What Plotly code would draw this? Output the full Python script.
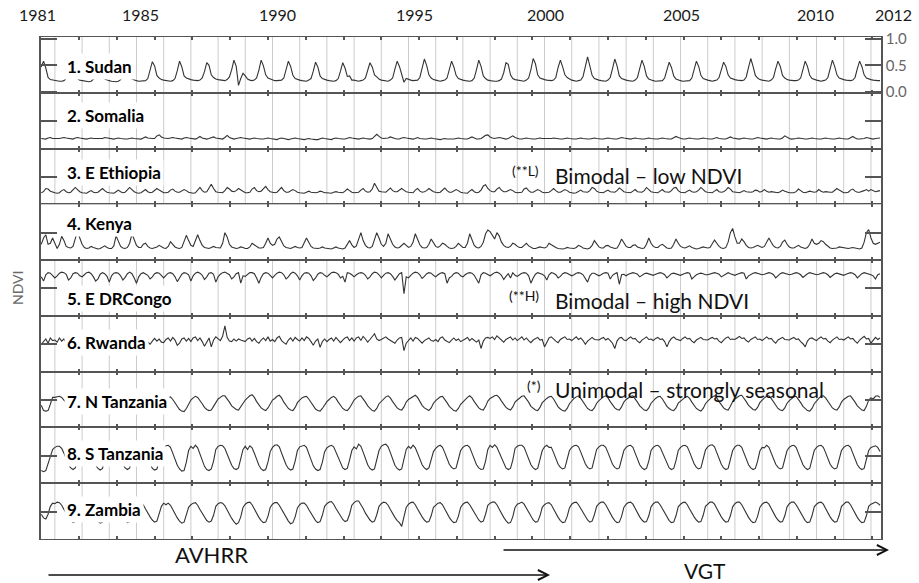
import plotly.graph_objects as go
from plotly.subplots import make_subplots

# ---------------- DATA (NDVI x 100, monthly; first row = Jul-Dec 1981, last row = Jan-May 2012) ----
region_names = ["1. Sudan", "2. Somalia", "3. E Ethiopia", "4. Kenya", "5. E DRCongo",
                "6. Rwanda", "7. N Tanzania", "8. S Tanzania", "9. Zambia"]

year_tick_labels = ["1981", "1985", "1990", "1995", "2000", "2005", "2010", "2012"]
right_tick_values = [0.0, 0.5, 1.0]
right_tick_labels = ["0.0", "0.5", "1.0"]

sudan = [
    [47, 58, 45, 27, 23, 22],
    [21, 20, 20, 20, 21, 25, 37, 55, 48, 31, 25, 22],
    [21, 20, 19, 19, 20, 24, 35, 52, 46, 30, 24, 22],
    [21, 20, 19, 19, 20, 23, 33, 50, 44, 29, 24, 22],
    [21, 20, 20, 20, 21, 25, 39, 57, 49, 31, 26, 23],
    [22, 21, 20, 20, 21, 25, 40, 58, 47, 30, 26, 24],
    [23, 22, 21, 21, 22, 26, 38, 55, 50, 32, 27, 24],
    [23, 22, 21, 21, 23, 28, 42, 60, 48, 12, 25, 35],
    [30, 24, 22, 21, 22, 26, 41, 60, 49, 32, 26, 24],
    [22, 21, 21, 21, 22, 26, 41, 58, 48, 31, 25, 23],
    [22, 21, 20, 20, 22, 25, 39, 56, 47, 30, 25, 23],
    [22, 21, 20, 20, 21, 25, 39, 55, 45, 29, 30, 22],
    [22, 21, 20, 21, 22, 26, 41, 55, 47, 32, 28, 24],
    [22, 21, 20, 20, 22, 26, 43, 58, 48, 32, 18, 25],
    [23, 22, 21, 21, 22, 27, 44, 62, 50, 32, 26, 23],
    [22, 21, 20, 21, 22, 26, 41, 58, 47, 31, 25, 23],
    [22, 21, 20, 20, 21, 26, 42, 60, 48, 30, 25, 22],
    [21, 20, 20, 20, 21, 24, 36, 55, 52, 32, 25, 23],
    [22, 21, 20, 20, 22, 26, 42, 63, 53, 32, 26, 24],
    [23, 22, 21, 21, 22, 27, 46, 60, 47, 32, 27, 24],
    [22, 21, 20, 21, 22, 29, 50, 66, 49, 31, 25, 23],
    [22, 21, 20, 20, 22, 27, 44, 62, 49, 30, 25, 23],
    [22, 21, 20, 20, 22, 27, 44, 60, 48, 30, 24, 22],
    [21, 20, 20, 20, 21, 26, 43, 56, 46, 30, 24, 22],
    [21, 20, 20, 20, 21, 26, 43, 58, 48, 31, 25, 23],
    [22, 21, 20, 21, 22, 27, 43, 56, 48, 32, 26, 24],
    [23, 22, 21, 21, 22, 28, 46, 63, 48, 31, 26, 23],
    [22, 21, 20, 20, 22, 27, 44, 58, 48, 31, 26, 23],
    [22, 21, 21, 21, 22, 26, 42, 58, 48, 31, 25, 23],
    [22, 21, 20, 21, 22, 27, 44, 60, 48, 32, 26, 24],
    [23, 22, 21, 21, 22, 27, 44, 58, 48, 32, 26, 24],
    [23, 22, 21, 21, 21],
]

somalia = [
    [17, 17, 16, 18, 19, 17],
    [17, 16, 17, 18, 19, 18, 17, 17, 16, 18, 19, 18],
    [17, 16, 16, 17, 18, 17, 17, 16, 16, 17, 19, 18],
    [17, 16, 16, 17, 18, 17, 16, 16, 16, 17, 18, 17],
    [17, 16, 16, 18, 20, 18, 17, 17, 17, 22, 24, 20],
    [18, 17, 17, 18, 19, 18, 17, 16, 16, 18, 19, 18],
    [17, 17, 16, 18, 21, 18, 17, 16, 17, 18, 20, 18],
    [17, 16, 16, 19, 23, 19, 17, 16, 17, 18, 19, 18],
    [17, 16, 16, 17, 18, 17, 16, 16, 16, 17, 18, 17],
    [16, 16, 15, 17, 18, 17, 16, 15, 16, 17, 18, 17],
    [16, 15, 15, 16, 17, 16, 15, 15, 15, 16, 18, 17],
    [16, 16, 15, 17, 18, 17, 16, 16, 16, 18, 19, 18],
    [17, 16, 16, 17, 18, 17, 16, 16, 17, 22, 25, 21],
    [18, 17, 17, 18, 20, 18, 17, 16, 16, 18, 19, 18],
    [17, 16, 16, 17, 19, 17, 16, 16, 16, 17, 18, 17],
    [16, 16, 15, 16, 17, 16, 16, 15, 16, 17, 18, 17],
    [16, 16, 16, 18, 20, 18, 16, 16, 17, 20, 23, 24],
    [20, 18, 17, 18, 19, 18, 17, 16, 17, 19, 22, 19],
    [17, 16, 16, 17, 18, 17, 16, 16, 16, 17, 18, 17],
    [17, 16, 16, 17, 18, 17, 16, 16, 16, 17, 18, 17],
    [16, 16, 16, 17, 18, 17, 16, 16, 16, 17, 18, 17],
    [16, 16, 16, 17, 18, 17, 16, 16, 16, 17, 19, 18],
    [17, 16, 16, 17, 18, 17, 16, 16, 16, 17, 18, 17],
    [16, 16, 16, 17, 18, 17, 16, 16, 16, 18, 21, 19],
    [17, 16, 16, 17, 18, 17, 16, 16, 16, 17, 18, 17],
    [16, 16, 16, 17, 19, 17, 16, 16, 16, 18, 20, 18],
    [17, 16, 16, 17, 18, 17, 16, 16, 16, 18, 19, 18],
    [17, 16, 16, 17, 18, 17, 16, 16, 16, 18, 22, 19],
    [17, 16, 16, 17, 18, 17, 16, 16, 16, 17, 18, 17],
    [16, 16, 16, 17, 18, 17, 16, 16, 16, 17, 18, 17],
    [16, 16, 16, 18, 21, 18, 16, 16, 16, 17, 19, 18],
    [17, 16, 17, 18, 18],
]

e_ethiopia = [
    [20, 22, 28, 27, 23, 21],
    [20, 19, 20, 24, 26, 22, 20, 21, 25, 30, 26, 22],
    [20, 19, 19, 22, 24, 21, 20, 21, 24, 28, 24, 21],
    [20, 19, 19, 22, 25, 22, 20, 21, 25, 30, 26, 22],
    [20, 19, 20, 23, 26, 22, 20, 21, 24, 28, 25, 22],
    [20, 20, 21, 25, 27, 23, 21, 21, 23, 26, 24, 21],
    [20, 19, 20, 26, 30, 24, 21, 22, 28, 36, 28, 22],
    [21, 20, 20, 24, 30, 27, 23, 22, 24, 28, 25, 22],
    [20, 20, 21, 27, 30, 24, 22, 23, 27, 32, 26, 22],
    [21, 20, 21, 26, 30, 24, 21, 21, 23, 26, 24, 21],
    [20, 19, 19, 21, 23, 21, 20, 20, 21, 23, 22, 20],
    [20, 19, 19, 21, 22, 21, 20, 20, 23, 27, 24, 21],
    [20, 20, 21, 25, 28, 23, 21, 22, 27, 38, 30, 23],
    [22, 21, 21, 25, 29, 24, 22, 22, 25, 28, 25, 22],
    [21, 20, 20, 25, 28, 23, 21, 22, 24, 28, 25, 22],
    [21, 20, 21, 26, 29, 24, 21, 21, 23, 26, 24, 21],
    [20, 19, 19, 23, 26, 22, 20, 21, 25, 33, 35, 28],
    [24, 22, 22, 27, 30, 25, 22, 22, 24, 26, 24, 21],
    [20, 20, 21, 27, 29, 24, 21, 21, 23, 26, 24, 21],
    [20, 20, 21, 24, 28, 24, 21, 21, 23, 26, 24, 21],
    [20, 19, 20, 22, 25, 22, 21, 21, 24, 30, 28, 23],
    [21, 20, 20, 23, 25, 22, 21, 21, 24, 29, 26, 22],
    [21, 20, 20, 23, 26, 22, 21, 21, 24, 30, 26, 22],
    [21, 20, 20, 23, 26, 22, 21, 21, 24, 29, 30, 24],
    [21, 20, 20, 23, 25, 22, 21, 22, 25, 30, 26, 22],
    [21, 20, 20, 23, 26, 22, 21, 22, 25, 30, 27, 22],
    [21, 20, 20, 22, 24, 22, 21, 21, 22, 25, 24, 21],
    [23, 26, 23, 21, 22, 21, 20, 20, 22, 25, 23, 21],
    [20, 20, 20, 22, 27, 24, 21, 20, 21, 23, 22, 21],
    [22, 26, 23, 21, 22, 21, 21, 21, 24, 28, 25, 22],
    [20, 20, 21, 25, 27, 23, 21, 21, 22, 24, 26, 23],
    [26, 24, 22, 23, 24],
]

kenya = [
    [28, 40, 46, 28, 30, 40],
    [30, 20, 28, 43, 35, 24, 22, 21, 24, 38, 53, 40],
    [28, 22, 20, 21, 24, 22, 20, 19, 20, 22, 25, 22],
    [20, 20, 25, 44, 35, 24, 21, 20, 22, 30, 48, 38],
    [26, 22, 22, 28, 30, 24, 21, 20, 21, 23, 26, 23],
    [21, 20, 24, 33, 28, 23, 21, 20, 22, 32, 45, 35],
    [26, 24, 36, 46, 35, 26, 22, 21, 20, 22, 24, 22],
    [21, 21, 30, 50, 42, 28, 23, 21, 20, 21, 23, 22],
    [20, 20, 23, 30, 27, 23, 21, 21, 22, 30, 40, 30],
    [26, 28, 38, 42, 33, 25, 22, 21, 20, 22, 24, 22],
    [21, 22, 30, 40, 32, 24, 21, 20, 20, 21, 23, 21],
    [20, 19, 19, 21, 23, 21, 20, 19, 21, 28, 35, 27],
    [22, 25, 40, 50, 35, 26, 22, 21, 24, 36, 50, 40],
    [28, 24, 30, 48, 38, 28, 23, 21, 22, 26, 30, 26],
    [22, 24, 32, 48, 38, 27, 22, 21, 22, 28, 38, 30],
    [24, 22, 25, 30, 28, 24, 21, 20, 21, 24, 30, 26],
    [22, 22, 30, 48, 36, 26, 22, 21, 24, 32, 48, 55],
    [52, 45, 38, 50, 44, 32, 26, 23, 22, 24, 30, 28],
    [24, 22, 22, 26, 30, 25, 22, 20, 20, 21, 23, 22],
    [21, 23, 30, 27, 24, 22, 20, 19, 19, 20, 22, 21],
    [20, 20, 22, 26, 24, 21, 20, 19, 21, 26, 35, 28],
    [23, 21, 21, 25, 26, 23, 21, 20, 21, 28, 38, 30],
    [24, 22, 22, 26, 27, 23, 21, 20, 21, 28, 40, 30],
    [24, 22, 22, 26, 28, 24, 21, 20, 21, 28, 38, 30],
    [24, 22, 21, 23, 25, 22, 20, 19, 20, 21, 23, 22],
    [21, 22, 28, 36, 30, 24, 21, 20, 22, 32, 50, 58],
    [42, 30, 30, 38, 33, 26, 22, 21, 22, 24, 26, 24],
    [22, 24, 32, 40, 32, 25, 22, 21, 24, 32, 36, 28],
    [23, 21, 21, 24, 26, 23, 21, 20, 22, 28, 38, 30],
    [28, 30, 35, 33, 28, 24, 21, 20, 20, 21, 23, 22],
    [21, 20, 20, 21, 22, 21, 20, 19, 21, 32, 50, 56],
    [40, 30, 28, 30, 32],
]

e_drcongo = [
    [72, 64, 76, 80, 79, 75],
    [70, 74, 79, 81, 80, 77, 66, 70, 78, 80, 79, 74],
    [72, 76, 80, 81, 78, 72, 64, 68, 77, 80, 78, 73],
    [62, 74, 79, 80, 79, 74, 66, 71, 78, 81, 78, 70],
    [60, 72, 78, 80, 78, 75, 68, 72, 78, 80, 79, 74],
    [70, 75, 79, 80, 78, 72, 63, 70, 77, 80, 79, 76],
    [64, 74, 79, 81, 79, 75, 67, 72, 79, 80, 77, 62],
    [72, 77, 80, 81, 79, 76, 68, 72, 78, 80, 60, 74],
    [73, 77, 80, 80, 78, 70, 60, 71, 78, 80, 79, 75],
    [70, 75, 79, 81, 80, 76, 68, 72, 78, 81, 79, 74],
    [66, 74, 79, 80, 79, 74, 65, 70, 77, 80, 79, 75],
    [72, 76, 80, 81, 80, 77, 70, 73, 62, 80, 79, 76],
    [72, 76, 79, 80, 79, 75, 68, 72, 78, 81, 80, 76],
    [70, 75, 79, 80, 78, 73, 66, 72, 78, 80, 40, 72],
    [70, 75, 79, 81, 80, 76, 69, 73, 78, 80, 79, 75],
    [72, 76, 79, 80, 78, 60, 70, 73, 78, 80, 79, 74],
    [72, 76, 79, 80, 79, 75, 68, 60, 76, 80, 79, 76],
    [74, 77, 80, 81, 79, 75, 67, 73, 78, 70, 80, 75],
    [73, 76, 79, 80, 79, 74, 60, 70, 77, 80, 79, 77],
    [74, 66, 76, 80, 79, 76, 70, 73, 78, 80, 79, 76],
    [74, 76, 79, 80, 79, 76, 69, 62, 74, 79, 79, 76],
    [74, 76, 79, 80, 79, 68, 75, 78, 80, 58, 76, 77],
    [74, 77, 79, 80, 79, 77, 72, 75, 78, 79, 78, 76],
    [75, 77, 79, 80, 79, 76, 70, 74, 78, 79, 78, 76],
    [75, 77, 79, 80, 79, 68, 72, 76, 78, 79, 78, 76],
    [76, 77, 79, 80, 79, 77, 72, 75, 78, 80, 78, 76],
    [75, 77, 79, 80, 79, 68, 74, 77, 79, 80, 79, 77],
    [76, 77, 79, 80, 79, 76, 70, 74, 78, 80, 79, 77],
    [76, 77, 79, 80, 79, 76, 71, 75, 78, 80, 79, 77],
    [76, 77, 79, 80, 79, 76, 71, 74, 78, 79, 78, 76],
    [75, 77, 79, 80, 79, 76, 70, 74, 78, 80, 79, 77],
    [76, 74, 68, 76, 78],
]

rwanda = [
    [50, 55, 60, 52, 62, 57],
    [58, 54, 62, 56, 60, 53, 50, 57, 60, 55, 61, 56],
    [57, 53, 60, 62, 56, 52, 48, 55, 60, 55, 59, 57],
    [55, 60, 56, 61, 55, 51, 48, 54, 58, 61, 56, 57],
    [57, 53, 59, 62, 58, 53, 50, 56, 61, 56, 60, 54],
    [53, 59, 62, 56, 63, 58, 48, 52, 60, 62, 56, 61],
    [55, 62, 64, 57, 62, 55, 46, 54, 62, 45, 58, 64],
    [61, 57, 65, 85, 63, 56, 55, 60, 56, 60, 58, 57],
    [55, 60, 62, 56, 61, 55, 52, 58, 62, 57, 64, 56],
    [59, 55, 62, 65, 57, 53, 50, 58, 62, 56, 63, 59],
    [56, 62, 57, 64, 61, 55, 48, 56, 60, 44, 55, 60],
    [55, 59, 62, 56, 63, 58, 53, 58, 62, 64, 57, 62],
    [56, 62, 64, 57, 65, 60, 54, 59, 64, 70, 60, 57],
    [59, 61, 64, 60, 57, 55, 52, 58, 62, 63, 38, 52],
    [58, 62, 56, 63, 61, 56, 52, 57, 60, 62, 57, 56],
    [59, 55, 62, 64, 58, 56, 53, 58, 62, 57, 60, 55],
    [57, 60, 63, 57, 61, 58, 54, 58, 42, 56, 62, 63],
    [61, 64, 59, 66, 62, 57, 54, 59, 62, 64, 58, 62],
    [57, 61, 64, 58, 62, 57, 53, 58, 60, 63, 58, 59],
    [45, 55, 62, 64, 59, 56, 53, 59, 62, 64, 59, 60],
    [57, 61, 64, 59, 62, 57, 50, 56, 60, 63, 59, 58],
    [58, 61, 63, 58, 61, 57, 52, 42, 56, 62, 63, 58],
    [57, 61, 64, 60, 61, 56, 53, 58, 61, 64, 59, 60],
    [57, 61, 63, 59, 60, 55, 45, 55, 61, 64, 60, 59],
    [57, 61, 64, 60, 61, 56, 53, 58, 61, 63, 59, 58],
    [58, 61, 63, 60, 61, 56, 53, 58, 62, 64, 59, 60],
    [59, 62, 65, 61, 62, 57, 54, 59, 62, 64, 59, 60],
    [57, 61, 64, 60, 61, 56, 52, 58, 61, 63, 59, 58],
    [58, 61, 63, 59, 60, 55, 51, 45, 56, 61, 62, 59],
    [57, 61, 64, 60, 61, 56, 53, 58, 61, 64, 59, 60],
    [58, 61, 64, 60, 61, 56, 52, 58, 61, 65, 60, 61],
    [52, 58, 63, 59, 62],
]

n_tanzania = [
    [40, 30, 29, 30, 42, 55],
    [55, 56, 57, 55, 50, 44, 38, 34, 31, 30, 36, 44],
    [48, 50, 53, 55, 50, 43, 37, 33, 30, 29, 33, 42],
    [46, 50, 54, 56, 52, 44, 38, 33, 30, 30, 35, 44],
    [48, 51, 55, 57, 52, 45, 38, 34, 31, 30, 36, 45],
    [49, 52, 55, 56, 51, 44, 37, 32, 29, 28, 34, 43],
    [50, 54, 57, 55, 50, 43, 36, 32, 30, 31, 38, 46],
    [52, 55, 58, 58, 53, 46, 39, 35, 32, 31, 37, 45],
    [50, 54, 58, 60, 55, 47, 40, 35, 32, 30, 35, 44],
    [50, 53, 57, 59, 54, 46, 39, 34, 31, 30, 36, 45],
    [50, 54, 56, 57, 52, 45, 38, 33, 30, 29, 34, 42],
    [47, 51, 55, 57, 53, 46, 39, 34, 31, 30, 35, 44],
    [50, 54, 57, 58, 53, 46, 39, 34, 30, 29, 34, 43],
    [48, 53, 56, 58, 54, 47, 40, 35, 32, 31, 37, 46],
    [51, 54, 57, 59, 55, 47, 40, 35, 32, 30, 35, 44],
    [49, 53, 56, 57, 52, 45, 38, 33, 30, 29, 34, 42],
    [47, 51, 55, 58, 54, 47, 40, 35, 32, 31, 38, 48],
    [53, 56, 58, 59, 55, 48, 41, 36, 33, 31, 37, 46],
    [50, 54, 57, 58, 53, 46, 38, 34, 31, 30, 36, 45],
    [50, 53, 56, 57, 52, 44, 37, 33, 30, 29, 34, 43],
    [49, 53, 56, 58, 53, 46, 39, 34, 31, 30, 35, 44],
    [49, 53, 56, 58, 54, 47, 40, 35, 32, 31, 37, 46],
    [51, 54, 57, 58, 53, 46, 39, 34, 31, 30, 35, 44],
    [49, 53, 56, 57, 52, 45, 38, 34, 31, 30, 35, 44],
    [48, 52, 55, 57, 53, 46, 39, 34, 31, 29, 34, 43],
    [48, 52, 56, 58, 54, 47, 40, 35, 32, 31, 38, 47],
    [52, 55, 58, 59, 54, 47, 40, 35, 32, 31, 36, 45],
    [50, 54, 57, 58, 53, 46, 39, 34, 31, 30, 35, 44],
    [49, 53, 56, 57, 52, 45, 38, 33, 30, 29, 34, 43],
    [49, 53, 57, 58, 54, 47, 40, 35, 32, 31, 37, 46],
    [51, 54, 57, 58, 53, 46, 39, 34, 31, 30, 38, 50],
    [54, 52, 57, 58, 55],
]

s_tanzania = [
    [22, 20, 22, 35, 50, 62],
    [66, 68, 68, 64, 55, 43, 33, 27, 24, 27, 42, 60],
    [66, 69, 69, 65, 55, 42, 32, 26, 23, 26, 40, 58],
    [65, 68, 69, 66, 56, 44, 34, 27, 24, 27, 41, 59],
    [67, 69, 70, 66, 56, 43, 33, 26, 23, 25, 40, 58],
    [66, 69, 70, 66, 55, 42, 32, 25, 21, 22, 38, 60],
    [68, 64, 70, 65, 54, 40, 30, 24, 22, 25, 40, 62],
    [68, 70, 69, 64, 54, 42, 32, 26, 24, 27, 43, 62],
    [68, 62, 69, 65, 55, 43, 32, 25, 22, 24, 38, 58],
    [66, 70, 71, 67, 57, 44, 33, 26, 23, 25, 40, 60],
    [67, 69, 70, 66, 55, 42, 31, 25, 22, 24, 38, 58],
    [65, 68, 70, 67, 57, 45, 34, 27, 24, 26, 42, 60],
    [67, 63, 72, 68, 57, 44, 33, 26, 23, 25, 40, 60],
    [68, 71, 72, 67, 56, 43, 32, 26, 23, 25, 42, 62],
    [68, 64, 70, 65, 55, 43, 33, 27, 24, 27, 42, 58],
    [64, 68, 70, 66, 56, 44, 34, 28, 25, 27, 42, 60],
    [66, 69, 70, 66, 55, 43, 33, 27, 24, 25, 40, 62],
    [70, 66, 71, 66, 56, 44, 34, 27, 24, 26, 42, 64],
    [68, 70, 70, 66, 55, 43, 33, 27, 24, 26, 41, 60],
    [67, 70, 66, 66, 56, 44, 34, 28, 25, 27, 42, 60],
    [66, 69, 70, 67, 57, 45, 35, 28, 25, 27, 43, 62],
    [67, 70, 70, 66, 56, 44, 34, 28, 25, 27, 42, 60],
    [66, 69, 70, 66, 55, 43, 33, 27, 24, 26, 40, 60],
    [66, 69, 70, 66, 56, 44, 34, 27, 24, 26, 41, 60],
    [66, 69, 70, 67, 57, 45, 35, 28, 25, 27, 42, 61],
    [67, 70, 71, 67, 56, 44, 34, 27, 24, 26, 41, 60],
    [67, 70, 70, 66, 55, 43, 33, 27, 24, 26, 40, 59],
    [66, 65, 70, 66, 56, 44, 34, 28, 25, 27, 42, 60],
    [66, 69, 70, 66, 55, 43, 33, 27, 24, 26, 41, 60],
    [66, 69, 70, 66, 56, 44, 34, 28, 25, 27, 42, 60],
    [66, 69, 70, 66, 55, 43, 33, 27, 24, 26, 42, 60],
    [66, 68, 69, 66, 58],
]

zambia = [
    [45, 38, 36, 45, 60, 66],
    [65, 68, 67, 62, 54, 46, 39, 33, 29, 31, 42, 58],
    [63, 66, 66, 61, 53, 45, 38, 32, 28, 30, 40, 56],
    [62, 66, 67, 62, 54, 46, 39, 33, 29, 31, 42, 58],
    [64, 67, 68, 63, 55, 47, 40, 34, 30, 32, 44, 60],
    [66, 63, 66, 62, 54, 45, 38, 32, 28, 30, 42, 58],
    [63, 66, 67, 62, 54, 46, 39, 33, 30, 32, 43, 60],
    [65, 67, 66, 61, 53, 44, 37, 31, 26, 29, 40, 58],
    [64, 67, 68, 63, 55, 46, 39, 33, 29, 30, 41, 58],
    [64, 67, 67, 62, 54, 45, 38, 32, 27, 29, 40, 57],
    [63, 66, 66, 62, 54, 46, 39, 33, 29, 31, 43, 60],
    [65, 68, 69, 64, 56, 48, 41, 35, 31, 33, 45, 62],
    [67, 70, 70, 64, 56, 47, 40, 34, 30, 32, 44, 60],
    [65, 68, 67, 62, 54, 46, 39, 33, 29, 22, 40, 58],
    [64, 67, 68, 63, 55, 47, 40, 34, 30, 31, 42, 58],
    [63, 66, 67, 63, 55, 46, 39, 33, 29, 30, 41, 58],
    [64, 67, 68, 63, 55, 47, 40, 34, 30, 32, 45, 62],
    [66, 68, 68, 63, 55, 46, 39, 33, 28, 29, 40, 58],
    [64, 66, 68, 64, 56, 47, 40, 34, 30, 31, 42, 58],
    [63, 66, 67, 63, 55, 46, 39, 33, 29, 30, 41, 57],
    [64, 67, 68, 63, 55, 47, 40, 34, 30, 32, 44, 60],
    [65, 68, 68, 63, 55, 46, 39, 33, 29, 30, 41, 58],
    [64, 67, 68, 64, 56, 47, 40, 34, 30, 31, 42, 59],
    [65, 68, 68, 63, 55, 46, 39, 33, 29, 30, 42, 59],
    [64, 67, 68, 63, 55, 47, 40, 34, 30, 31, 43, 60],
    [65, 68, 68, 64, 56, 47, 40, 34, 30, 31, 42, 59],
    [65, 68, 68, 63, 55, 46, 39, 33, 29, 30, 41, 58],
    [64, 67, 68, 64, 56, 47, 40, 34, 30, 31, 42, 59],
    [65, 68, 68, 63, 55, 46, 39, 33, 29, 30, 42, 59],
    [64, 67, 68, 64, 56, 47, 40, 34, 30, 31, 43, 60],
    [65, 68, 68, 63, 55, 46, 39, 33, 29, 30, 42, 60],
    [64, 66, 68, 66, 62],
]

series_list = [sudan, somalia, e_ethiopia, kenya, e_drcongo, rwanda, n_tanzania, s_tanzania, zambia]

FIRST_YEAR = 1981
FIRST_MONTH = 6  # July


def to_xy(rows):
    xs, ys = [], []
    for r, row in enumerate(rows):
        start = FIRST_MONTH if r == 0 else 0
        for j, v in enumerate(row):
            xs.append(FIRST_YEAR + r + (start + j) / 12.0)
            ys.append(v / 100.0)
    return xs, ys


# ---------------- FIGURE ----------------
W, H = 919, 583
ML, MR, MT, MB = 41, 38, 37, 44
PW, PH = W - ML - MR, H - MT - MB


def px(xp):
    return (xp - ML) / PW


def py(yp):
    return (H - MB - yp) / PH


EDGE = "#555555"
LINE = "#333333"
FONT = "Lato"

fig = make_subplots(rows=9, cols=1, shared_xaxes=True, vertical_spacing=0)

for i, rows in enumerate(series_list):
    xs, ys = to_xy(rows)
    fig.add_trace(go.Scatter(x=xs, y=ys, mode="lines",
                             line=dict(color=LINE, width=1.1),
                             showlegend=False, hoverinfo="skip"),
                  row=i + 1, col=1)

X0, X1 = 1981.49, 2012.37
year_grid = list(range(1982, 2013))
dekad_ticks = [1981.5 + k * 50 / 36 for k in range(1, 23)]

for i in range(9):
    fig.update_xaxes(row=i + 1, col=1, range=[X0, X1], showline=True, mirror="ticks",
                     linecolor=EDGE, linewidth=1, zeroline=False,
                     tickmode="array", tickvals=dekad_ticks, ticks="inside",
                     ticklen=3, tickwidth=1.5, tickcolor=EDGE,
                     showticklabels=False, showgrid=False)
    common_y = dict(range=[-0.02, 1.038], showline=True, mirror="ticks", linecolor=EDGE,
                    linewidth=1.5, zeroline=False, showgrid=False, ticks="inside",
                    ticklen=16, tickwidth=1.5, tickcolor=EDGE, fixedrange=True)
    if i == 0:
        fig.update_yaxes(row=1, col=1, side="right", tickmode="array",
                         tickvals=right_tick_values, ticktext=right_tick_labels,
                         showticklabels=True,
                         tickfont=dict(family=FONT, size=15, color="#666666"), **common_y)
    else:
        fig.update_yaxes(row=i + 1, col=1, tickmode="array", tickvals=[0.5],
                         showticklabels=False, **common_y)

# vertical year grid lines spanning all panels
shapes = []
for yr in year_grid:
    shapes.append(dict(type="line", xref="x", yref="paper", x0=yr, x1=yr, y0=0, y1=1,
                       layer="below", line=dict(color="#cbcbcb", width=1)))

annotations = []

# top year labels
year_label_px = [37, 140, 277, 414, 545, 681, 815, 893]
for lab, xp in zip(year_tick_labels, year_label_px):
    annotations.append(dict(text=lab, x=px(xp), y=py(14), xref="paper", yref="paper",
                            xanchor="center", yanchor="middle", showarrow=False,
                            font=dict(family=FONT, size=16, color="#1a1a1a")))

# region labels
label_y_px = [67, 116, 172, 223, 298, 342, 401, 453, 509]
for name, yp in zip(region_names, label_y_px):
    annotations.append(dict(text="<b>%s</b>" % name, x=px(64), y=py(yp), xref="paper", yref="paper",
                            xanchor="left", yanchor="middle", showarrow=False,
                            bgcolor="white", borderpad=2,
                            font=dict(family=FONT, size=17, color="#000000")))

# class annotations
classes = [("(**L)", "Bimodal – low NDVI", 525, 170, 175),
           ("(**H)", "Bimodal – high NDVI", 524, 295, 300),
           ("(*)", "Unimodal – strongly seasonal", 534, 385, 389)]
for small, big, sx, sy, by in classes:
    annotations.append(dict(text=small, x=px(sx), y=py(sy), xref="paper", yref="paper",
                            xanchor="center", yanchor="middle", showarrow=False,
                            font=dict(family=FONT, size=14, color="#111111")))
    annotations.append(dict(text=big, x=px(553), y=py(by), xref="paper", yref="paper",
                            xanchor="left", yanchor="middle", showarrow=False,
                            font=dict(family=FONT, size=21, color="#111111")))

# y-axis title
annotations.append(dict(text="NDVI", x=px(17), y=py(288), xref="paper", yref="paper",
                        xanchor="center", yanchor="middle", showarrow=False, textangle=-90,
                        font=dict(family=FONT, size=14, color="#6a6a6a")))

# sensor arrows and labels
annotations.append(dict(text="", x=px(550), y=py(575), xref="paper", yref="paper",
                        ax=-(550 - 47), ay=0, axref="pixel", ayref="pixel",
                        showarrow=True, arrowhead=5, arrowsize=1.4, arrowwidth=1.4,
                        arrowcolor="#111111", standoff=0, startstandoff=0))
annotations.append(dict(text="", x=px(889), y=py(550), xref="paper", yref="paper",
                        ax=-(889 - 502), ay=0, axref="pixel", ayref="pixel",
                        showarrow=True, arrowhead=5, arrowsize=1.4, arrowwidth=1.4,
                        arrowcolor="#111111", standoff=0, startstandoff=0))
annotations.append(dict(text="AVHRR", x=px(211), y=py(554), xref="paper", yref="paper",
                        xanchor="center", yanchor="middle", showarrow=False,
                        font=dict(family=FONT, size=22, color="#111111")))
annotations.append(dict(text="VGT", x=px(705), y=py(570), xref="paper", yref="paper",
                        xanchor="center", yanchor="middle", showarrow=False,
                        font=dict(family=FONT, size=21, color="#111111")))

fig.update_layout(width=W, height=H, margin=dict(l=ML, r=MR, t=MT, b=MB),
                  paper_bgcolor="white", plot_bgcolor="white",
                  annotations=annotations, shapes=shapes, showlegend=False,
                  font=dict(family=FONT))

fig.write_html("out.html", config={"displayModeBar": False},
               post_script="document.body.style.margin='0px';document.body.style.padding='0px';")
